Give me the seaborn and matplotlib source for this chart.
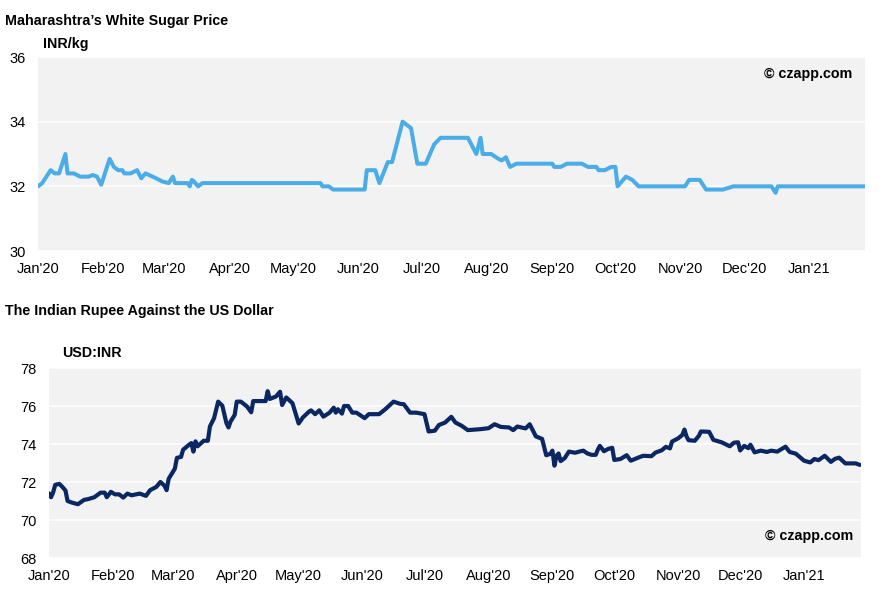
import pandas as pd
import matplotlib
matplotlib.use("Agg")
import matplotlib.pyplot as plt
import matplotlib.dates as mdates
import seaborn as sns

# Maharashtra white sugar price (INR/kg) at its turning points
sugar_dates = [
    "2020-01-01", "2020-01-03", "2020-01-07", "2020-01-09", "2020-01-11", "2020-01-14",
    "2020-01-15", "2020-01-18", "2020-01-21", "2020-01-25", "2020-01-27", "2020-01-29",
    "2020-01-31", "2020-02-04", "2020-02-06", "2020-02-08", "2020-02-10", "2020-02-11",
    "2020-02-14", "2020-02-17", "2020-02-19", "2020-02-21", "2020-02-26", "2020-02-29",
    "2020-03-03", "2020-03-05", "2020-03-06", "2020-03-12", "2020-03-13", "2020-03-14",
    "2020-03-15", "2020-03-17", "2020-03-19", "2020-05-14", "2020-05-15", "2020-05-18",
    "2020-05-20", "2020-06-04", "2020-06-05", "2020-06-09", "2020-06-11", "2020-06-15",
    "2020-06-17", "2020-06-22", "2020-06-26", "2020-06-29", "2020-07-03", "2020-07-07",
    "2020-07-10", "2020-07-23", "2020-07-27", "2020-07-29", "2020-07-30", "2020-08-03",
    "2020-08-06", "2020-08-08", "2020-08-10", "2020-08-12", "2020-08-15", "2020-09-01",
    "2020-09-02", "2020-09-05", "2020-09-08", "2020-09-15", "2020-09-18", "2020-09-22",
    "2020-09-23", "2020-09-26", "2020-09-29", "2020-10-01", "2020-10-02", "2020-10-06",
    "2020-10-09", "2020-10-12", "2020-11-03", "2020-11-05", "2020-11-10", "2020-11-13",
    "2020-11-21", "2020-11-26", "2020-12-14", "2020-12-16", "2020-12-17", "2021-01-27",
]
sugar_price = [
    32.0, 32.1, 32.5, 32.4, 32.4, 33.0,
    32.4, 32.4, 32.3, 32.3, 32.35, 32.3,
    32.05, 32.85, 32.6, 32.5, 32.5, 32.4,
    32.4, 32.5, 32.25, 32.4, 32.25, 32.15,
    32.1, 32.3, 32.1, 32.1, 32.0, 32.2,
    32.15, 32.0, 32.1, 32.1, 32.0, 32.0,
    31.9, 31.9, 32.5, 32.5, 32.1, 32.75,
    32.75, 34.0, 33.8, 32.7, 32.7, 33.3,
    33.5, 33.5, 33.0, 33.5, 33.0, 33.0,
    32.87, 32.8, 32.9, 32.6, 32.7, 32.7,
    32.6, 32.6, 32.7, 32.7, 32.6, 32.6,
    32.5, 32.5, 32.6, 32.6, 32.0, 32.3,
    32.2, 32.0, 32.0, 32.2, 32.2, 31.9,
    31.9, 32.0, 32.0, 31.8, 32.0, 32.0,
]

# USD:INR exchange rate
fx_dates = [
    "2020-01-01", "2020-01-02", "2020-01-03", "2020-01-04", "2020-01-06", "2020-01-07",
    "2020-01-09", "2020-01-10", "2020-01-12", "2020-01-15", "2020-01-18", "2020-01-20",
    "2020-01-23", "2020-01-26", "2020-01-28", "2020-01-29", "2020-01-31", "2020-02-02",
    "2020-02-04", "2020-02-06", "2020-02-08", "2020-02-10", "2020-02-14", "2020-02-17",
    "2020-02-19", "2020-02-22", "2020-02-24", "2020-02-26", "2020-02-27", "2020-02-28",
    "2020-03-02", "2020-03-03", "2020-03-05", "2020-03-06", "2020-03-09", "2020-03-10",
    "2020-03-11", "2020-03-12", "2020-03-13", "2020-03-16", "2020-03-18", "2020-03-19",
    "2020-03-21", "2020-03-23", "2020-03-25", "2020-03-27", "2020-03-28", "2020-03-29",
    "2020-03-31", "2020-04-01", "2020-04-03", "2020-04-06", "2020-04-08", "2020-04-09",
    "2020-04-15", "2020-04-16", "2020-04-17", "2020-04-20", "2020-04-22", "2020-04-23",
    "2020-04-25", "2020-04-28", "2020-05-01", "2020-05-03", "2020-05-06", "2020-05-07",
    "2020-05-09", "2020-05-11", "2020-05-13", "2020-05-16", "2020-05-18", "2020-05-19",
    "2020-05-20", "2020-05-22", "2020-05-23", "2020-05-25", "2020-05-27", "2020-05-29",
    "2020-06-02", "2020-06-04", "2020-06-09", "2020-06-12", "2020-06-16", "2020-06-19",
    "2020-06-21", "2020-06-24", "2020-06-27", "2020-07-01", "2020-07-03", "2020-07-06",
    "2020-07-08", "2020-07-11", "2020-07-14", "2020-07-16", "2020-07-19", "2020-07-22",
    "2020-07-28", "2020-08-01", "2020-08-04", "2020-08-07", "2020-08-11", "2020-08-13",
    "2020-08-15", "2020-08-19", "2020-08-21", "2020-08-24", "2020-08-27", "2020-08-29",
    "2020-08-31", "2020-09-01", "2020-09-02", "2020-09-03", "2020-09-04", "2020-09-05",
    "2020-09-07", "2020-09-09", "2020-09-12", "2020-09-14", "2020-09-16", "2020-09-18",
    "2020-09-20", "2020-09-22", "2020-09-23", "2020-09-24", "2020-09-26", "2020-09-28",
    "2020-09-30", "2020-10-01", "2020-10-04", "2020-10-07", "2020-10-09", "2020-10-13",
    "2020-10-15", "2020-10-19", "2020-10-21", "2020-10-24", "2020-10-26", "2020-10-28",
    "2020-10-29", "2020-11-01", "2020-11-03", "2020-11-04", "2020-11-05", "2020-11-06",
    "2020-11-09", "2020-11-11", "2020-11-12", "2020-11-16", "2020-11-17", "2020-11-18",
    "2020-11-22", "2020-11-26", "2020-11-28", "2020-11-30", "2020-12-01", "2020-12-03",
    "2020-12-05", "2020-12-06", "2020-12-08", "2020-12-11", "2020-12-14", "2020-12-16",
    "2020-12-19", "2020-12-23", "2020-12-25", "2020-12-28", "2021-01-01", "2021-01-04",
    "2021-01-06", "2021-01-08", "2021-01-11", "2021-01-14", "2021-01-16", "2021-01-18",
    "2021-01-21", "2021-01-26", "2021-01-28",
]
fx_rate = [
    71.4, 71.2, 71.45, 71.85, 71.9, 71.8,
    71.55, 71.0, 70.92, 70.83, 71.06, 71.1,
    71.2, 71.44, 71.44, 71.2, 71.48, 71.35,
    71.35, 71.18, 71.39, 71.3, 71.39, 71.27,
    71.57, 71.74, 72.0, 71.8, 71.57, 72.17,
    72.7, 73.27, 73.32, 73.7, 73.97, 74.05,
    73.6, 74.14, 73.88, 74.17, 74.17, 74.92,
    75.36, 76.23, 76.02, 75.1, 74.87, 75.18,
    75.53, 76.23, 76.23, 75.97, 75.67, 76.26,
    76.26, 76.78, 76.37, 76.5, 76.75, 76.05,
    76.45, 76.15, 75.08, 75.39, 75.7, 75.77,
    75.57, 75.77, 75.44, 75.65, 75.91, 75.65,
    75.83, 75.6, 76.0, 76.0, 75.65, 75.65,
    75.36, 75.57, 75.57, 75.83, 76.23, 76.12,
    76.09, 75.65, 75.65, 75.57, 74.66, 74.7,
    75.0, 75.13, 75.43, 75.13, 74.96, 74.73,
    74.78, 74.83, 75.04, 74.9, 74.87, 74.73,
    74.92, 74.82, 75.04, 74.4, 74.27, 73.41,
    73.48, 73.65, 72.86, 73.38, 73.5, 73.1,
    73.26, 73.6, 73.54, 73.6, 73.65, 73.5,
    73.43, 73.43, 73.7, 73.9, 73.62, 73.74,
    73.8, 73.16, 73.21, 73.41, 73.12, 73.3,
    73.38, 73.36, 73.55, 73.67, 73.85, 73.77,
    74.13, 74.3, 74.48, 74.76, 74.4, 74.2,
    74.17, 74.43, 74.66, 74.64, 74.43, 74.22,
    74.09, 73.88, 74.07, 74.09, 73.66, 73.9,
    73.78, 73.96, 73.56, 73.65, 73.58, 73.65,
    73.6, 73.86, 73.58, 73.49, 73.12, 73.03,
    73.21, 73.15, 73.38, 73.06, 73.22, 73.28,
    72.98, 72.98, 72.9,
]

sugar = pd.DataFrame({"date": pd.to_datetime(sugar_dates), "price": sugar_price})
fx = pd.DataFrame({"date": pd.to_datetime(fx_dates), "rate": fx_rate})

sns.set_style("white", {"axes.facecolor": "#F2F2F2", "grid.color": "white"})
plt.rcParams["font.family"] = ["Liberation Sans", "DejaVu Sans"]

fig = plt.figure(figsize=(8.84, 6.0), dpi=100)
ax1 = fig.add_axes([38 / 884, 1 - 251 / 600, 827 / 884, 194 / 600])
ax2 = fig.add_axes([49 / 884, 1 - 558 / 600, 812 / 884, 190 / 600])

sns.lineplot(data=sugar, x="date", y="price", ax=ax1, color="#4AADE8", linewidth=2.9)
sns.lineplot(data=fx, x="date", y="rate", ax=ax2, color="#0B2763", linewidth=3.0)


def style_axis(ax, ylim, yticks, xend):
    ax.set_xlim(pd.Timestamp("2020-01-01"), pd.Timestamp(xend))
    ax.set_ylim(*ylim)
    ax.set_yticks(yticks)
    ax.xaxis.set_major_locator(mdates.MonthLocator())
    ax.xaxis.set_major_formatter(mdates.DateFormatter("%b'%y"))
    ax.set_xlabel("")
    ax.set_ylabel("")
    ax.grid(axis="y", color="white", linewidth=1.1)
    ax.grid(axis="x", visible=False)
    for s in ax.spines.values():
        s.set_visible(False)
    ax.tick_params(axis="both", length=0, labelsize=10.5, colors="black")
    ax.tick_params(axis="x", pad=8)
    ax.tick_params(axis="y", pad=9)


style_axis(ax1, (30, 36), [30, 32, 34, 36], "2021-01-27 10:00")
style_axis(ax2, (68, 78), [68, 70, 72, 74, 76, 78], "2021-01-28 14:00")

bold = dict(fontweight="bold", fontsize=10.3, color="black")
fig.text(5 / 884, 1 - 20.5 / 600, "Maharashtra\u2019s White Sugar Price", ha="left", va="center", **bold)
fig.text(43 / 884, 1 - 44 / 600, "INR/kg", ha="left", va="center", **bold)
fig.text(5 / 884, 1 - 311 / 600, "The Indian Rupee Against the US Dollar", ha="left", va="center", **bold)
fig.text(62 / 884, 1 - 353 / 600, "USD:INR", ha="left", va="center", **bold)
fig.text(852 / 884, 1 - 74 / 600, "\u00a9 czapp.com", ha="right", va="center", **bold)
fig.text(853 / 884, 1 - 536 / 600, "\u00a9 czapp.com", ha="right", va="center", **bold)

fig.savefig("out.png", dpi=100, facecolor="white")
